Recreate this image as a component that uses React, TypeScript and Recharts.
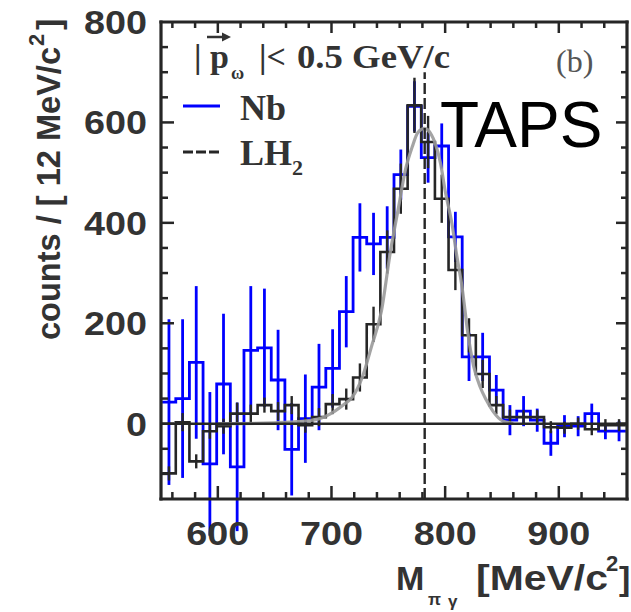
import React from 'react';
import { ComposedChart, Line, Scatter, ErrorBar, XAxis, YAxis, ReferenceLine } from 'recharts';

// centres of the 12 MeV/c^2 mass bins
const binCenters = [
  557, 569, 581, 593, 605, 617, 629, 641, 653, 665, 677, 689, 701, 713, 725, 737, 749,
  761, 773, 785, 797, 809, 821, 833, 845, 857, 869, 881, 893, 905, 917, 929, 941, 953,
];

// Nb target, background subtracted
const nbCounts = [
  43, 50, 122, -80, 79, -86, 146, 151, 87, -51, 10, 73, 110, 223, 371, 358, 371,
  496, 632, 530, 553, 372, 133, 133, 67, 7, 25, 7, -39, -5, -5, 20, -15, -15,
];
const nbErrors = [
  165, 158, 152, 143, 140, 128, 128, 118, 100, 92, 88, 86, 78, 71, 68, 62, 62,
  50, 50, 50, 45, 50, 48, 48, 30, 30, 30, 23, 25, 22, 20, 20, 16, 20,
];

// LH2 reference
const lh2Counts = [
  -99, 3, -75, -15, -5, 20, 20, 37, 25, 37, -3, 13, 39, 49, 92, 198, 342,
  468, 634, 561, 448, 306, 176, 99, 37, 13, 13, 13, -7, -8, 0, -11, -3, -3,
];
const lh2Errors = [
  14, 18, 14, 15, 15, 22, 18, 15, 18, 18, 15, 18, 20, 21, 28, 35, 43,
  50, 55, 52, 48, 40, 34, 28, 18, 15, 14, 14, 12, 12, 12, 12, 12, 12,
];

// fitted line shape
const fitMass = [
  600, 640, 670, 688, 703, 712, 718, 727, 735, 744, 752, 759, 765, 771, 776,
  782, 788, 791, 796, 800, 806, 810, 815, 820, 825, 831, 836, 842, 851, 860,
];
const fitCounts = [
  0, 1, 4, 9, 25, 40, 52, 92, 152, 225, 345, 431, 505, 551, 580,
  588, 575, 560, 518, 464, 398, 338, 270, 180, 115, 72, 48, 25, 5, 1,
];

const xTicks = [560, 580, 600, 620, 640, 660, 680, 700, 720, 740, 760, 780, 800, 820, 840, 860, 880, 900, 920, 940];
const yTicks = [-100, -50, 0, 50, 100, 150, 200, 250, 300, 350, 400, 450, 500, 550, 600, 650, 700, 750];
const xLabels = [600, 700, 800, 900];
const yLabels = [0, 200, 400, 600, 800];
const omegaMass = 782;

const X_DOMAIN: [number, number] = [550, 960];
const Y_DOMAIN: [number, number] = [-150, 800];
const BIN_HALF = 6;
const INK = '#262626';
const LABEL = '#333';
const BLUE = '#0000ff';

// chart box: margins plus axis sizes give the plot area below
const CHART_W = 631;
const CHART_H = 612;
const MARGIN = { top: 22, right: 4, left: 0, bottom: 0 };
const Y_AXIS_W = 161;
const X_AXIS_H = 113;
const PLOT = {
  left: MARGIN.left + Y_AXIS_W,
  top: MARGIN.top,
  width: CHART_W - MARGIN.left - MARGIN.right - Y_AXIS_W,
  height: CHART_H - MARGIN.top - MARGIN.bottom - X_AXIS_H,
};
const px = (m: number) => PLOT.left + ((m - X_DOMAIN[0]) / (X_DOMAIN[1] - X_DOMAIN[0])) * PLOT.width;
const py = (c: number) => PLOT.top + ((Y_DOMAIN[1] - c) / (Y_DOMAIN[1] - Y_DOMAIN[0])) * PLOT.height;

const toSteps = (counts: number[]) => {
  const pts = binCenters.map((c, i) => ({ m: c - BIN_HALF, y: counts[i] }));
  const last = binCenters.length - 1;
  pts.push({ m: binCenters[last] + BIN_HALF, y: counts[last] });
  return pts;
};
const toPoints = (counts: number[], errs: number[]) =>
  binCenters.map((c, i) => ({ m: c, y: counts[i], err: errs[i] }));

const nbSteps = toSteps(nbCounts);
const lh2Steps = toSteps(lh2Counts);
const nbPoints = toPoints(nbCounts, nbErrors);
const lh2Points = toPoints(lh2Counts, lh2Errors);
const fitData = fitMass.map((m, i) => ({ m, y: fitCounts[i] }));

const sans = '"Liberation Sans", Arial, sans-serif';
const serif = '"Liberation Serif", "Times New Roman", serif';
const tickFont = { fontFamily: sans, fontWeight: 700, fontSize: 34, fill: LABEL };

// tick labels are a bit wider than the font draws them
const labelWidth = (v: number) => String(v).length * 21;

const BottomLabel = (props: any) => {
  const { x, y, payload } = props;
  if (!xLabels.includes(payload.value)) return <g />;
  return (
    <text x={x} y={y + 46} textAnchor="middle" textLength={labelWidth(payload.value)} lengthAdjust="spacingAndGlyphs" {...tickFont}>
      {payload.value}
    </text>
  );
};

const LeftLabel = (props: any) => {
  const { x, y, payload } = props;
  if (!yLabels.includes(payload.value)) return <g />;
  return (
    <text x={x - 14} y={y + 12} textAnchor="end" textLength={labelWidth(payload.value)} lengthAdjust="spacingAndGlyphs" {...tickFont}>
      {payload.value}
    </text>
  );
};

// box around the plot with inward ticks on all four sides
const Frame = () => {
  const bottom = PLOT.top + PLOT.height;
  const right = PLOT.left + PLOT.width;
  const ticks: React.ReactNode[] = [];
  xTicks.forEach((v) => {
    const major = v % 100 === 0;
    const x = px(v);
    ticks.push(<line key={`xb${v}`} x1={x} x2={x} y1={bottom} y2={bottom - (major ? 13 : 7)} />);
    ticks.push(<line key={`xt${v}`} x1={x} x2={x} y1={PLOT.top} y2={PLOT.top + (major ? 11 : 6)} />);
  });
  yTicks.forEach((v) => {
    const major = v % 200 === 0;
    const y = py(v);
    ticks.push(<line key={`yl${v}`} x1={PLOT.left} x2={PLOT.left + (major ? 13 : 7)} y1={y} y2={y} />);
    ticks.push(<line key={`yr${v}`} x1={right} x2={right - (major ? 11 : 6)} y1={y} y2={y} />);
  });
  return (
    <g>
      <g stroke={INK} strokeWidth={2.5}>
        {ticks}
      </g>
      <g stroke={INK} strokeWidth={3.2} strokeLinecap="square">
        <line x1={PLOT.left} x2={right} y1={PLOT.top} y2={PLOT.top} />
        <line x1={right} x2={right} y1={PLOT.top} y2={bottom} />
        <line x1={PLOT.left} x2={right} y1={bottom} y2={bottom} />
        <line x1={PLOT.left} x2={PLOT.left} y1={PLOT.top} y2={bottom} />
      </g>
    </g>
  );
};

export default function App() {
  return (
    <div style={{ position: 'absolute', left: 0, top: 0, width: CHART_W, height: CHART_H, background: '#fff' }}>
      <ComposedChart width={CHART_W} height={CHART_H} margin={MARGIN}>
        <XAxis
          xAxisId="b"
          dataKey="m"
          type="number"
          domain={X_DOMAIN}
          allowDataOverflow
          ticks={xLabels}
          interval={0}
          tickSize={0}
          tickMargin={0}
          tickLine={false}
          tick={BottomLabel}
          axisLine={false}
          height={X_AXIS_H}
        />
        <YAxis
          yAxisId="l"
          dataKey="y"
          type="number"
          domain={Y_DOMAIN}
          allowDataOverflow
          ticks={yLabels}
          interval={0}
          tickSize={0}
          tickMargin={0}
          tickLine={false}
          tick={LeftLabel}
          axisLine={false}
          width={Y_AXIS_W}
        />

        {/* Nb histogram with its error bars */}
        <Line
          xAxisId="b"
          yAxisId="l"
          data={nbSteps}
          dataKey="y"
          type="stepAfter"
          stroke={BLUE}
          strokeWidth={2.8}
          dot={false}
          activeDot={false}
          isAnimationActive={false}
        />
        <Scatter xAxisId="b" yAxisId="l" data={nbPoints} dataKey="y" shape={() => <g />} isAnimationActive={false}>
          <ErrorBar dataKey="err" direction="y" width={0} stroke={BLUE} strokeWidth={2.8} isAnimationActive={false} />
        </Scatter>

        {/* LH2 histogram on top */}
        <Line
          xAxisId="b"
          yAxisId="l"
          data={lh2Steps}
          dataKey="y"
          type="stepAfter"
          stroke={INK}
          strokeWidth={2.6}
          dot={false}
          activeDot={false}
          isAnimationActive={false}
        />
        <Scatter xAxisId="b" yAxisId="l" data={lh2Points} dataKey="y" shape={() => <g />} isAnimationActive={false}>
          <ErrorBar dataKey="err" direction="y" width={0} stroke={INK} strokeWidth={2.4} isAnimationActive={false} />
        </Scatter>

        <Line
          xAxisId="b"
          yAxisId="l"
          data={fitData}
          dataKey="y"
          type="monotone"
          stroke="#9a9a9a"
          strokeOpacity={0.9}
          strokeWidth={3.2}
          dot={false}
          activeDot={false}
          isAnimationActive={false}
        />

        <ReferenceLine xAxisId="b" yAxisId="l" y={0} stroke={INK} strokeWidth={2.6} />
        <ReferenceLine
          xAxisId="b"
          yAxisId="l"
          segment={[{ x: omegaMass, y: -150 }, { x: omegaMass, y: 700 }]}
          stroke={INK}
          strokeWidth={2.4}
          strokeDasharray="11 4"
        />
      </ComposedChart>

      <svg width={CHART_W} height={CHART_H} style={{ position: 'absolute', left: 0, top: 0, pointerEvents: 'none' }}>
        <Frame />

        {/* y axis title */}
        <g transform="translate(60,340) rotate(-90)" fontFamily={sans} fontWeight={700} fill={LABEL}>
          <text x={0} y={0} fontSize={34} textLength={293} lengthAdjust="spacingAndGlyphs">
            counts / [ 12 MeV/c
          </text>
          <text x={294} y={-16} fontSize={22}>
            2
          </text>
          <text x={310} y={0} fontSize={34}>
            ]
          </text>
        </g>

        {/* x axis title */}
        <g fontFamily={sans} fontWeight={700} fill={LABEL}>
          <text x={396} y={590} fontSize={34}>
            M
          </text>
          <text x={428} y={605} fontSize={17}>
            π
          </text>
          <text x={448} y={607} fontSize={17}>
            γ
          </text>
          <text x={476} y={590} fontSize={35} textLength={132} lengthAdjust="spacingAndGlyphs">
            [MeV/c
          </text>
          <text x={606} y={571} fontSize={22}>
            2
          </text>
          <text x={619} y={590} fontSize={34}>
            ]
          </text>
        </g>

        {/* momentum cut and panel label */}
        <g fontFamily={serif} fontWeight={700} fill={LABEL}>
          <text x={194} y={68} fontSize={34}>
            |
          </text>
          <text x={210} y={68} fontSize={34}>
            p
          </text>
          <text x={231} y={79} fontSize={18}>
            ω
          </text>
          <text x={259} y={68} fontSize={34}>
            |&lt;
          </text>
          <text x={297} y={68} fontSize={34} textLength={153} lengthAdjust="spacingAndGlyphs">
            0.5 GeV/c
          </text>
        </g>
        <line x1={207} x2={224} y1={37} y2={37} stroke={LABEL} strokeWidth={2.5} />
        <polygon points="231,37 222,32.5 222,41.5" fill={LABEL} />
        <text x={556} y={72} fontFamily={serif} fontSize={32} fill="#555">
          (b)
        </text>

        {/* legend */}
        <line x1={183} x2={220} y1={106} y2={106} stroke={BLUE} strokeWidth={3} />
        <text x={240} y={120} fontFamily={serif} fontWeight={700} fontSize={36} fill={LABEL}>
          Nb
        </text>
        <line x1={183} x2={220} y1={152} y2={152} stroke={INK} strokeWidth={3} strokeDasharray="10 3" />
        <text x={240} y={165} fontFamily={serif} fontWeight={700} fontSize={36} fill={LABEL}>
          LH<tspan fontSize={22} dy={10}>2</tspan>
        </text>

        <text x={440} y={147} fontFamily={sans} fontSize={64} fill="#000">
          TAPS
        </text>
      </svg>
    </div>
  );
}
